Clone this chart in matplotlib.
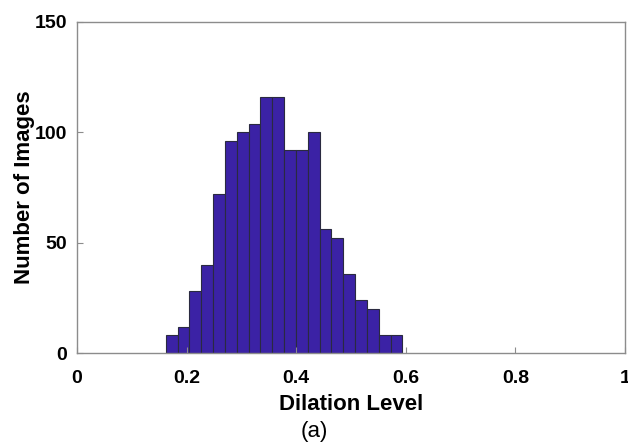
import numpy as np
import matplotlib
matplotlib.use("Agg")
import matplotlib.pyplot as plt

# 直方图数据
bin_start = 0.1618
bin_width = 0.0216
counts = [8, 12, 28, 40, 72, 96, 100, 104, 116, 116,
          92, 92, 100, 56, 52, 36, 24, 20, 8, 8]
x_ticks = [0, 0.2, 0.4, 0.6, 0.8, 1]
x_tick_labels = ['0', '0.2', '0.4', '0.6', '0.8', '1']
y_ticks = [0, 50, 100, 150]

plt.rcParams['font.family'] = ['Liberation Sans', 'DejaVu Sans']

fig = plt.figure(figsize=(6.28, 4.44), dpi=100)
ax = fig.add_axes([77 / 628, 1 - 353 / 444, 548 / 628, 331 / 444])

edges = bin_start + bin_width * np.arange(len(counts))
ax.bar(edges, counts, width=bin_width, align='edge',
       color='#3b22a5', edgecolor='#2a2a40', linewidth=0.8)

ax.set_xlim(0, 1)
ax.set_ylim(0, 150)
ax.set_xticks(x_ticks)
ax.set_xticklabels(x_tick_labels)
ax.set_yticks(y_ticks)

for s in ax.spines.values():
    s.set_color('#8c8c8c')
    s.set_linewidth(1.0)
ax.tick_params(direction='in', length=4, width=0.8, color='#8c8c8c',
               labelsize=14)
ax.tick_params(axis='x', pad=12)
ax.tick_params(axis='y', pad=7)
for lab in ax.get_xticklabels() + ax.get_yticklabels():
    lab.set_fontweight('bold')

ax.set_ylabel('Number of Images', fontsize=16, fontweight='bold', labelpad=0)
ax.set_xlabel('Dilation Level', fontsize=16, fontweight='bold', labelpad=5)
fig.text(0.5, 1 - 431 / 444, '(a)', ha='center', va='center', fontsize=16)

fig.savefig('out.png', dpi=100)
